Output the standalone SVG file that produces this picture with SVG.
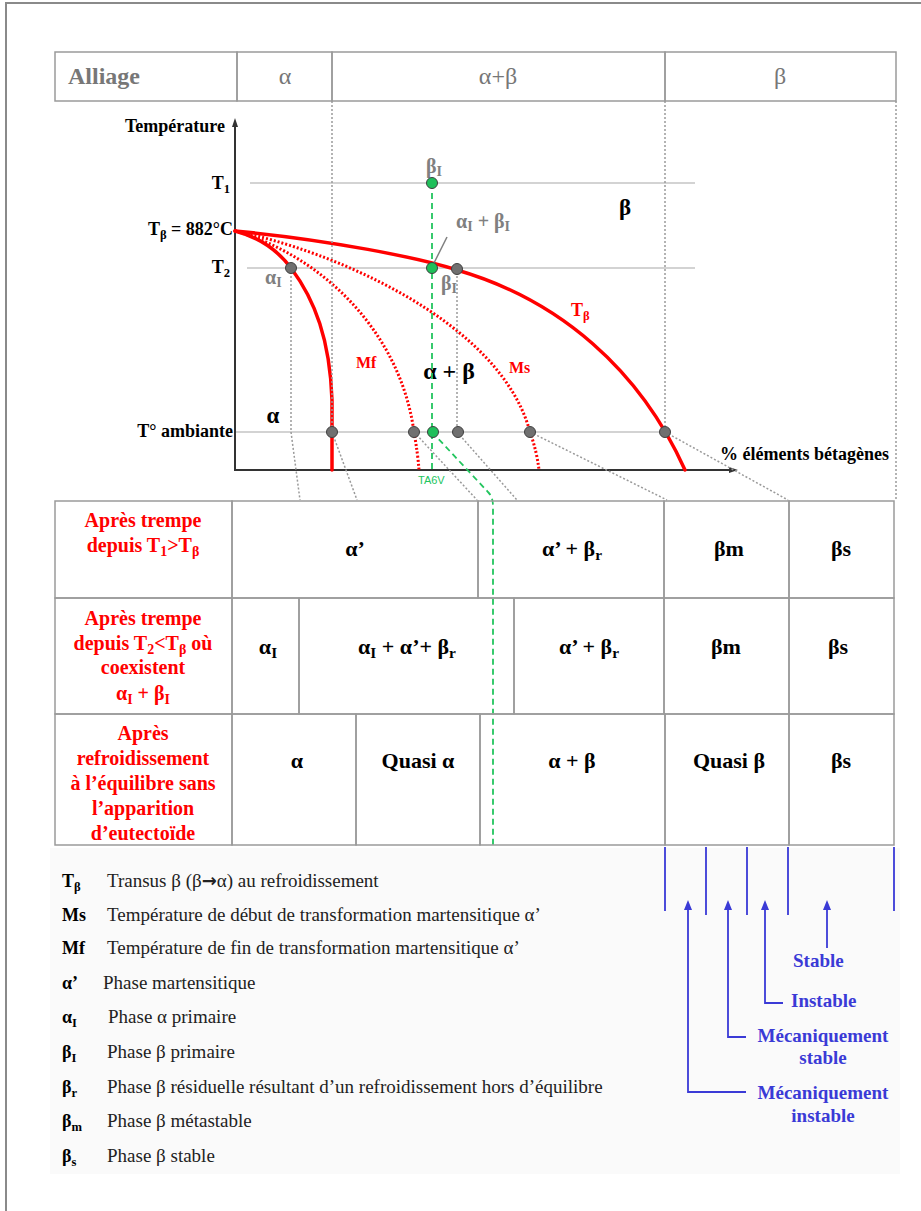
<svg xmlns="http://www.w3.org/2000/svg" width="921" height="1211" viewBox="0 0 921 1211">
<style>
text{font-family:"Liberation Serif","DejaVu Serif",serif}
.cell{fill:none;stroke:#9a9a9a;stroke-width:1.5}
.hdr{fill:#777;font-size:24px}
.lab{fill:#000;font-size:18px;font-weight:bold}
.gr{fill:#808080;font-size:20px;font-weight:bold}
.red{fill:#ff0000;font-size:20px;font-weight:bold;text-anchor:middle}
.ct{fill:#000;font-size:22px;font-weight:bold;text-anchor:middle}
.lg{fill:#222;font-size:19px}
.lgs{fill:#000;font-size:18px;font-weight:bold}
.blue{fill:#3a3ad6;font-size:19px;font-weight:bold}
.dot{stroke:#9a9a9a;stroke-width:1.5;stroke-dasharray:2 2;fill:none}
.guide{stroke:#c4c4c4;stroke-width:1.3;fill:none}
.solid{stroke:#ff0000;stroke-width:3.5;fill:none;stroke-linecap:round}
.dred{stroke:#ff0000;stroke-width:3;fill:none;stroke-dasharray:2 2}
.green{stroke:#22c55e;stroke-width:1.8;fill:none;stroke-dasharray:6 4}
.gdot{fill:#707070;stroke:#404040;stroke-width:1}
.vdot{fill:#1fbf5a;stroke:#404040;stroke-width:1}
.bl{stroke:#3a3ad6;stroke-width:1.8;fill:none}
</style>
<defs>
<marker id="ah" markerWidth="10" markerHeight="10" refX="0" refY="5" orient="auto" markerUnits="userSpaceOnUse"><path d="M0,1 L10,5 L0,9 z" fill="#3a3ad6"/></marker>
<marker id="ax" markerWidth="10" markerHeight="8" refX="0" refY="4" orient="auto" markerUnits="userSpaceOnUse"><path d="M0,1 L9,4 L0,7 z" fill="#333"/></marker>
</defs>
<rect width="921" height="1211" fill="#fff"/>
<rect x="50" y="848" width="850" height="326" fill="#fafafa"/>
<path d="M6,1211 V3 H921" fill="none" stroke="#8a8a8a" stroke-width="2"/>

<g id="header">
<g id="h-alliage"><rect class="cell" x="55" y="52" width="182" height="49"/><text class="hdr" x="68" y="84" font-weight="bold">Alliage</text></g>
<g id="h-alpha"><rect class="cell" x="237" y="52" width="95" height="49"/><text class="hdr" x="285" y="84" text-anchor="middle">α</text></g>
<g id="h-alphabeta"><rect class="cell" x="332" y="52" width="333" height="49"/><text class="hdr" x="498" y="84" text-anchor="middle">α+β</text></g>
<g id="h-beta"><rect class="cell" x="665" y="52" width="231" height="49"/><text class="hdr" x="780" y="84" text-anchor="middle">β</text></g>
</g>

<g id="chart">
<line class="guide" x1="250" y1="183" x2="695" y2="183"/>
<line class="guide" x1="247" y1="268" x2="695" y2="268"/>
<line class="guide" x1="234" y1="432" x2="665" y2="432"/>
<line x1="235" y1="470" x2="235" y2="127" stroke="#333" stroke-width="2" marker-end="url(#ax)"/>
<line x1="234" y1="470" x2="729" y2="470" stroke="#333" stroke-width="2" marker-end="url(#ax)"/>
<text class="lab" x="125" y="132">Température</text>
<text class="lab" x="230" y="189" text-anchor="end">T<tspan font-size="70%" dy="4">1</tspan></text>
<text class="lab" x="233" y="235" text-anchor="end">T<tspan font-size="70%" dy="4">β</tspan><tspan dy="-4"> = 882°C</tspan></text>
<text class="lab" x="230" y="273" text-anchor="end">T<tspan font-size="70%" dy="4">2</tspan></text>
<text class="lab" x="233" y="437" text-anchor="end">T° ambiante</text>
<text class="lab" x="720" y="460" font-size="17">% éléments bétagènes</text>
<path class="solid" d="M235,231 C330,240 420,258 457,270 C560,300 640,370 685,470"/>
<path class="solid" d="M235,231 Q270,240 291,268 C315,300 330,340 332,400 L332,470"/>
<path class="dred" d="M235,231 C320,255 400,330 414,432 Q418,455 419,470"/>
<path class="dred" d="M235,231 C330,250 500,320 530,432 Q537,452 539,470"/>
<text x="571" y="316" fill="#ff0000" font-size="18" font-weight="bold">T<tspan font-size="70%" dy="4">β</tspan></text>
<text x="356" y="368" fill="#ff0000" font-size="16" font-weight="bold">Mf</text>
<text x="509" y="373" fill="#ff0000" font-size="16" font-weight="bold">Ms</text>
<text x="449" y="379" font-size="24" font-weight="bold" text-anchor="middle">α + β</text>
<text x="625" y="215" font-size="23" font-weight="bold" text-anchor="middle">β</text>
<text x="273" y="423" font-size="23" font-weight="bold" text-anchor="middle">α</text>
<text class="gr" x="426" y="173">β<tspan font-size="70%" dy="3">I</tspan></text>
<text class="gr" x="456" y="228">α<tspan font-size="70%" dy="3">I</tspan><tspan dy="-3"> + β</tspan><tspan font-size="70%" dy="3">I</tspan></text>
<line x1="447" y1="237" x2="434" y2="263" stroke="#808080" stroke-width="1.5"/>
<text class="gr" x="265" y="284">α<tspan font-size="70%" dy="3">I</tspan></text>
<text class="gr" x="441" y="290">β<tspan font-size="70%" dy="3">I</tspan></text>
<text x="418" y="484" fill="#22c55e" font-size="11" style="font-family:'Liberation Sans',sans-serif">TA6V</text>
</g>

<g id="connectors">
<path class="dot" d="M332,101 V432"/>
<path class="dot" d="M665,101 V432"/>
<path class="dot" d="M896,101 V500"/>
<path class="dot" d="M291,268 V432 L300,500"/>
<path class="dot" d="M332,432 L357,500"/>
<path class="dot" d="M414,432 L477,500"/>
<path class="dot" d="M457,268 V432 L517,500"/>
<path class="dot" d="M530,432 L667,500"/>
<path class="dot" d="M665,432 L788,500"/>
<path class="green" d="M432,183 V470"/>
<path class="green" d="M432,432 L488,492 Q493,497 493,506 V845"/>
<path class="bl" d="M665,847 V911 M706,847 V915 M747,847 V915 M788,847 V915 M894,847 V911"/>
<path class="bl" d="M746,1092 H688 V910" marker-end="url(#ah)"/>
<path class="bl" d="M746,1037 H728 V910" marker-end="url(#ah)"/>
<path class="bl" d="M783,1003 H765 V910" marker-end="url(#ah)"/>
<path class="bl" d="M827,948 V910" marker-end="url(#ah)"/>
</g>

<g id="points">
<circle class="vdot" cx="432" cy="183" r="5.5"/>
<circle class="gdot" cx="291" cy="268" r="5.5"/>
<circle class="vdot" cx="432" cy="268" r="5.5"/>
<circle class="gdot" cx="457" cy="269" r="5.5"/>
<circle class="gdot" cx="332" cy="432" r="5.5"/>
<circle class="gdot" cx="414" cy="432" r="5.5"/>
<circle class="vdot" cx="433" cy="432" r="5.5"/>
<circle class="gdot" cx="458" cy="432" r="5.5"/>
<circle class="gdot" cx="530" cy="432" r="5.5"/>
<circle class="gdot" cx="665" cy="432" r="5.5"/>
</g>

<g id="row1">
<g id="r1-label"><rect class="cell" x="55" y="501" width="177" height="97"/>
<text class="red" x="143" y="527">Après trempe</text>
<text class="red" x="143" y="552">depuis T<tspan font-size="70%" dy="4">1</tspan><tspan dy="-4">&gt;T</tspan><tspan font-size="70%" dy="4">β</tspan></text></g>
<g id="r1-c1"><rect class="cell" x="232" y="501" width="246" height="97"/><text class="ct" x="355" y="556">α’</text></g>
<g id="r1-c2"><rect class="cell" x="478" y="501" width="186" height="97"/><text class="ct" x="572" y="556">α’ + β<tspan font-size="70%" dy="4">r</tspan></text></g>
<g id="r1-c3"><rect class="cell" x="664" y="501" width="125" height="97"/><text class="ct" x="729" y="556">βm</text></g>
<g id="r1-c4"><rect class="cell" x="789" y="501" width="105" height="97"/><text class="ct" x="841" y="556">βs</text></g>
</g>

<g id="row2">
<g id="r2-label"><rect class="cell" x="55" y="598" width="177" height="116"/>
<text class="red" x="143" y="625">Après trempe</text>
<text class="red" x="143" y="650">depuis T<tspan font-size="70%" dy="4">2</tspan><tspan dy="-4">&lt;T</tspan><tspan font-size="70%" dy="4">β</tspan><tspan dy="-4"> où</tspan></text>
<text class="red" x="143" y="674">coexistent</text>
<text class="red" x="143" y="700">α<tspan font-size="70%" dy="4">I</tspan><tspan dy="-4"> + β</tspan><tspan font-size="70%" dy="4">I</tspan></text></g>
<g id="r2-c1"><rect class="cell" x="232" y="598" width="67" height="116"/><text class="ct" x="268" y="654">α<tspan font-size="70%" dy="4">I</tspan></text></g>
<g id="r2-c2"><rect class="cell" x="299" y="598" width="215" height="116"/><text class="ct" x="407" y="654">α<tspan font-size="70%" dy="4">I</tspan><tspan dy="-4"> + α’+ β</tspan><tspan font-size="70%" dy="4">r</tspan></text></g>
<g id="r2-c3"><rect class="cell" x="514" y="598" width="150" height="116"/><text class="ct" x="589" y="654">α’ + β<tspan font-size="70%" dy="4">r</tspan></text></g>
<g id="r2-c4"><rect class="cell" x="664" y="598" width="125" height="116"/><text class="ct" x="726" y="654">βm</text></g>
<g id="r2-c5"><rect class="cell" x="789" y="598" width="105" height="116"/><text class="ct" x="838" y="654">βs</text></g>
</g>

<g id="row3">
<g id="r3-label"><rect class="cell" x="55" y="714" width="177" height="131"/>
<text class="red" x="143" y="740">Après</text>
<text class="red" x="143" y="765">refroidissement</text>
<text class="red" x="143" y="790">à l’équilibre sans</text>
<text class="red" x="143" y="815">l’apparition</text>
<text class="red" x="143" y="840">d’eutectoïde</text></g>
<g id="r3-c1"><rect class="cell" x="232" y="714" width="124" height="131"/><text class="ct" x="297" y="768">α</text></g>
<g id="r3-c2"><rect class="cell" x="356" y="714" width="124" height="131"/><text class="ct" x="418" y="768">Quasi α</text></g>
<g id="r3-c3"><rect class="cell" x="480" y="714" width="185" height="131"/><text class="ct" x="572" y="768">α + β</text></g>
<g id="r3-c4"><rect class="cell" x="665" y="714" width="124" height="131"/><text class="ct" x="729" y="768">Quasi β</text></g>
<g id="r3-c5"><rect class="cell" x="789" y="714" width="105" height="131"/><text class="ct" x="841" y="768">βs</text></g>
</g>

<g id="legend">
<text class="lgs" x="62" y="887">T<tspan font-size="70%" dy="4">β</tspan></text><text class="lg" x="107" y="887">Transus β (β<tspan font-weight="bold" style="font-family:'DejaVu Sans',sans-serif" font-size="18">→</tspan>α) au refroidissement</text>
<text class="lgs" x="62" y="921">Ms</text><text class="lg" x="107" y="921">Température de début de transformation martensitique α’</text>
<text class="lgs" x="62" y="954">Mf</text><text class="lg" x="107" y="954">Température de fin de transformation martensitique α’</text>
<text class="lgs" x="62" y="989">α’</text><text class="lg" x="103" y="989">Phase martensitique</text>
<text class="lgs" x="62" y="1023">α<tspan font-size="70%" dy="4">I</tspan></text><text class="lg" x="108" y="1023">Phase α primaire</text>
<text class="lgs" x="62" y="1058">β<tspan font-size="70%" dy="4">I</tspan></text><text class="lg" x="107" y="1058">Phase β primaire</text>
<text class="lgs" x="62" y="1093">β<tspan font-size="70%" dy="4">r</tspan></text><text class="lg" x="107" y="1093">Phase β résiduelle résultant d’un refroidissement hors d’équilibre</text>
<text class="lgs" x="62" y="1127">β<tspan font-size="70%" dy="4">m</tspan></text><text class="lg" x="107" y="1127">Phase β métastable</text>
<text class="lgs" x="62" y="1162">β<tspan font-size="70%" dy="4">s</tspan></text><text class="lg" x="107" y="1162">Phase β stable</text>
</g>

<g id="stability">
<text class="blue" x="793" y="967">Stable</text>
<text class="blue" x="791" y="1007">Instable</text>
<text class="blue" x="823" y="1042" text-anchor="middle">Mécaniquement</text>
<text class="blue" x="823" y="1064" text-anchor="middle">stable</text>
<text class="blue" x="823" y="1099" text-anchor="middle">Mécaniquement</text>
<text class="blue" x="823" y="1122" text-anchor="middle">instable</text>
</g>
</svg>
